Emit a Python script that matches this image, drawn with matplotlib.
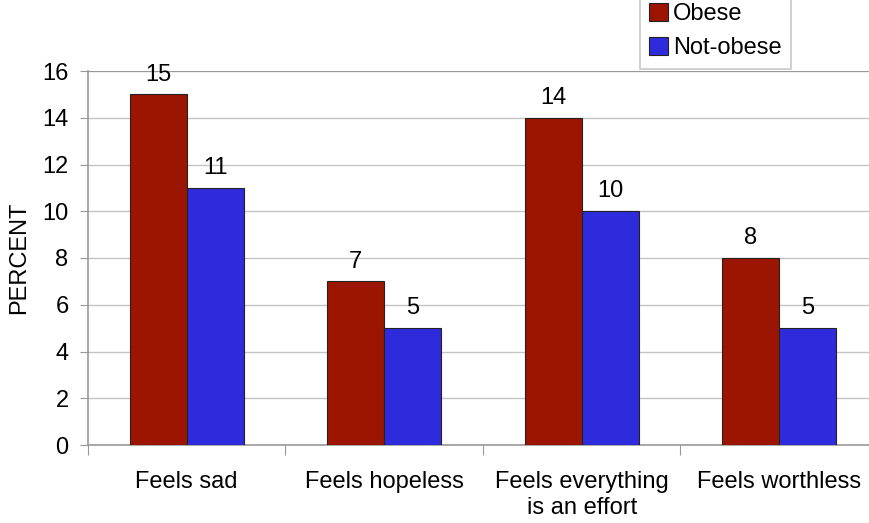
import numpy as np
import matplotlib.pyplot as plt
from matplotlib.ticker import FixedLocator, NullFormatter

categories = ['Feels sad', 'Feels hopeless', 'Feels everything\nis an effort', 'Feels worthless']
obese = [15, 7, 14, 8]
not_obese = [11, 5, 10, 5]
series_names = ['Obese', 'Not-obese']
colors = ['#9c1500', '#2e2bdd']

plt.rcParams['font.family'] = ['Liberation Sans', 'DejaVu Sans']
fs = 17

fig = plt.figure(figsize=(8.7, 5.23), dpi=100)
ax = fig.add_axes([88 / 870, 1 - 445 / 523, 790 / 870, 374 / 523])

centers = np.arange(len(categories)) + 0.5
w = 0.288
b1 = ax.bar(centers - w / 2, obese, w, color=colors[0], edgecolor='#222222', linewidth=0.8,
            label=series_names[0], zorder=3)
b2 = ax.bar(centers + w / 2, not_obese, w, color=colors[1], edgecolor='#222222', linewidth=0.8,
            label=series_names[1], zorder=3)

for bars, vals in ((b1, obese), (b2, not_obese)):
    for bar, v in zip(bars, vals):
        ax.text(bar.get_x() + bar.get_width() / 2, v + 0.85, str(v),
                ha='center', va='center', fontsize=fs)

ax.set_xlim(0, 4)
ax.set_ylim(0, 16)
ax.set_yticks(range(0, 17, 2))
ax.tick_params(axis='y', labelsize=fs, length=6, color='#999999', pad=8)
ax.xaxis.set_major_locator(FixedLocator([0, 1, 2, 3, 4]))
ax.xaxis.set_major_formatter(NullFormatter())
ax.xaxis.set_minor_locator(FixedLocator(centers))
ax.set_xticklabels(categories, minor=True)
ax.tick_params(axis='x', which='major', length=7, color='#999999')
ax.tick_params(axis='x', which='minor', length=0, labelsize=fs, pad=19)

ax.yaxis.grid(True, color='#c4c4c4', linewidth=1, zorder=0)
ax.axhline(16, color='#999999', linewidth=1.5, zorder=1)
ax.set_axisbelow(True)
for side in ('top', 'right'):
    ax.spines[side].set_visible(False)
for side in ('left', 'bottom'):
    ax.spines[side].set_color('#999999')
    ax.spines[side].set_linewidth(1.2)

ax.set_ylabel('PERCENT', fontsize=fs, labelpad=9)

leg = fig.legend(loc='upper left', bbox_to_anchor=(640 / 870, 1.012), fontsize=fs,
                 frameon=True, fancybox=False, edgecolor='#bbbbbb',
                 handlelength=0.8, handleheight=0.8, handletextpad=0.2,
                 labelspacing=0.5, borderpad=0.4, borderaxespad=0)
leg.get_frame().set_linewidth(1.2)

fig.savefig('out.png', dpi=100)
